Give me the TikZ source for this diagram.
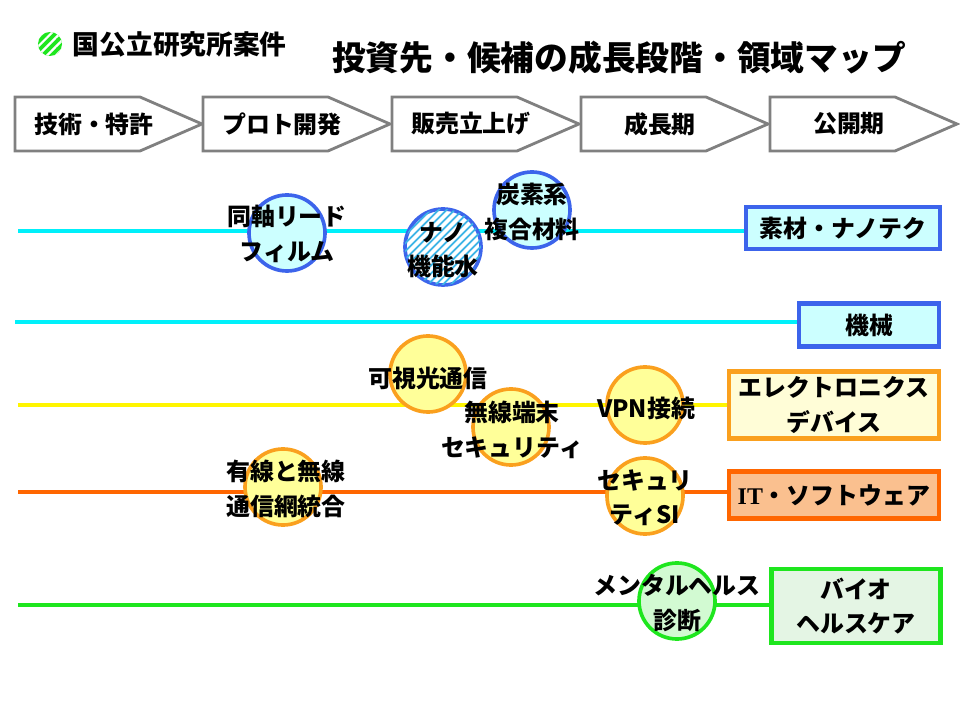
\documentclass[tikz,border=0pt]{standalone}
\usepackage{fontspec}
\setmainfont{Noto Sans CJK JP}
\newfontfamily\serifit{Liberation Serif}
\usepackage{tikz}
\usetikzlibrary{patterns.meta}

\definecolor{stagegray}{RGB}{128,128,128}
\definecolor{linecyan}{RGB}{0,240,250}
\definecolor{nanoblue}{RGB}{60,100,235}
\definecolor{nanofill}{RGB}{204,255,255}
\definecolor{nanostripe}{RGB}{60,180,230}
\definecolor{lineyellow}{RGB}{255,245,0}
\definecolor{elecorange}{RGB}{250,160,30}
\definecolor{elecfill}{RGB}{255,255,153}
\definecolor{elecbox}{RGB}{255,253,215}
\definecolor{itorange}{RGB}{255,102,0}
\definecolor{itfill}{RGB}{250,192,143}
\definecolor{biogreen}{RGB}{30,230,30}
\definecolor{biofill}{RGB}{210,250,210}
\definecolor{biobox}{RGB}{228,245,228}

\begin{document}
\begin{tikzpicture}[x=0.025cm,y=-0.025cm,
    every node/.style={font=\fontsize{17}{24.5}\selectfont\bfseries,align=center},
    stage/.style={draw=stagegray,line width=2pt,fill=white},
    track/.style={line width=2.2pt},
    field/.style={draw,line width=3.5pt,inner sep=0pt},
    spot/.style={circle,draw,line width=2.6pt,minimum size=1.9cm,inner sep=0pt}]
  \useasboundingbox (0,0) rectangle (960,720);

  % legend and title
  \node[circle,fill=biogreen,minimum size=0.6cm,inner sep=0pt,%
    postaction={pattern={Lines[angle=45,distance=4.5pt,line width=1.6pt]},pattern color=white}] (key) at (50,44) {};
  \node[anchor=west,font=\fontsize{19}{22}\selectfont\bfseries] (keytext) at (68,44) {国公立研究所案件};
  \node[font=\fontsize{24}{28}\selectfont\bfseries] (title) at (619,58) {投資先・候補の成長段階・領域マップ};

  % growth stages
  \foreach \x/\name/\txt in {15/tech/技術・特許,203/proto/プロト開発,392/sales/販売立上げ,%
      581/growth/成長期,770/ipo/公開期} {
    \draw[stage] (\x,97) -- ++(125,0) -- ++(62,27) -- ++(-62,27) -- ++(-125,0) -- cycle;
    \node (\name) at (\x+79,124) {\txt};
  }

  % fields
  \node[field,draw=nanoblue,fill=nanofill,minimum width=4.85cm,minimum height=1.05cm] (mat) at (843,228) {素材・ナノテク};
  \node[field,draw=nanoblue,fill=nanofill,minimum width=3.5cm,minimum height=1.08cm] (mech) at (869,325) {機械};
  \node[field,draw=elecorange,fill=elecbox,minimum width=5.25cm,minimum height=1.68cm] (elec) at (834,405) {エレクトロニクス\\デバイス};
  \node[field,draw=itorange,fill=itfill,minimum width=5.25cm,minimum height=1.18cm] (it) at (834,495) {{\serifit IT}・ソフトウェア};
  \node[field,draw=biogreen,fill=biobox,minimum width=4.22cm,minimum height=1.85cm] (bio) at (856,606) {バイオ\\ヘルスケア};

  \coordinate (matl) at (18,231);
  \coordinate (mechl) at (15,322);
  \coordinate (elecl) at (18,405);
  \coordinate (itl) at (18,492);
  \coordinate (biol) at (18,605);
  \draw[track,linecyan] (matl) -- (matl -| mat.west);
  \draw[track,linecyan] (mechl) -- (mechl -| mech.west);
  \draw[track,lineyellow] (elecl) -- (elecl -| elec.west);
  \draw[track,itorange] (itl) -- (itl -| it.west);
  \draw[track,biogreen] (biol) -- (biol -| bio.west);

  % companies
  \node[spot,draw=nanoblue,fill=nanofill] (coax) at (287,233) {};
  \node[spot,draw=nanoblue,fill=white,%
    postaction={pattern={Lines[angle=45,distance=4pt,line width=1.3pt]},pattern color=nanostripe}] (nano) at (443,247) {};
  \node[spot,draw=nanoblue,fill=nanofill] (carbon) at (532,210) {};
  \node[spot,draw=elecorange,fill=elecfill] (vlc) at (428,374) {};
  \node[spot,draw=elecorange,fill=elecfill] (wsec) at (511,427) {};
  \node[spot,draw=elecorange,fill=elecfill] (vpn) at (645,405) {};
  \node[spot,draw=elecorange,fill=elecfill] (secsi) at (645,496) {};
  \node[spot,draw=elecorange,fill=elecfill] (wired) at (283,487) {};
  \node[spot,draw=biogreen,fill=biofill] (mental) at (677,601) {};

  \node at (287,234) {同軸リード\\フィルム};
  \node at (443,250) {ナノ\\機能水};
  \node at (532,212) {炭素系\\複合材料};
  \node at (428,378) {可視光通信};
  \node at (512,430) {無線端末\\セキュリティ};
  \node at (646,408) {VPN接続};
  \node at (645,498) {セキュリ\\ティSI};
  \node at (286,489) {有線と無線\\通信網統合};
  \node at (677,603) {メンタルヘルス\\診断};
\end{tikzpicture}
\end{document}
